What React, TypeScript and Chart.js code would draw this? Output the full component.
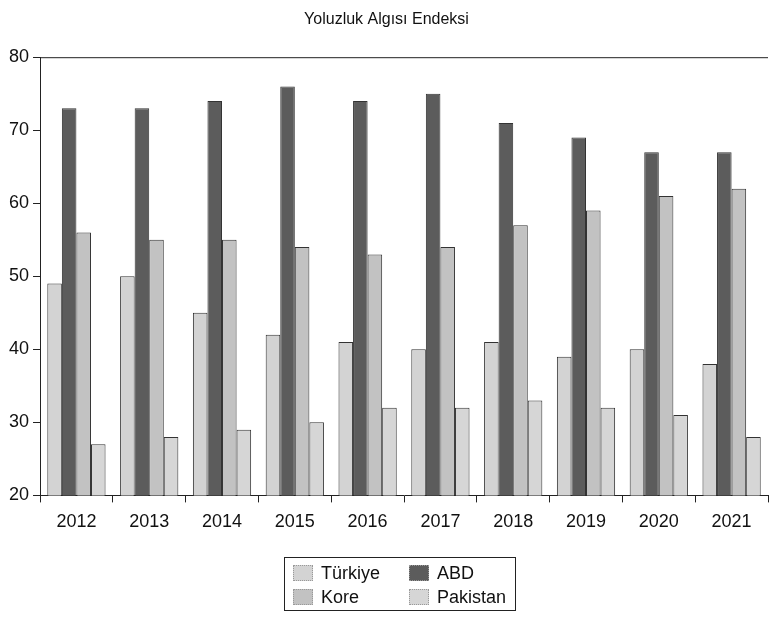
import React, { useEffect, useRef } from "react";
import { Chart, registerables } from "chart.js";

Chart.register(...registerables);

const years = ["2012", "2013", "2014", "2015", "2016", "2017", "2018", "2019", "2020", "2021"];
const turkiye = [49, 50, 45, 42, 41, 40, 41, 39, 40, 38];
const abd = [73, 73, 74, 76, 74, 75, 71, 69, 67, 67];
const kore = [56, 55, 55, 54, 53, 54, 57, 59, 61, 62];
const pakistan = [27, 28, 29, 30, 32, 32, 33, 32, 31, 28];
const seriesNames = ["Türkiye", "ABD", "Kore", "Pakistan"];
const seriesColors = ["#d3d3d3", "#5c5c5c", "#c2c2c2", "#d6d6d6"];
const titleText = "Yoluzluk Algısı Endeksi";
const FONT = "'Liberation Sans', Arial, sans-serif";

const frameTop = {
  id: "frameTop",
  afterDraw(chart: any) {
    const { ctx, chartArea } = chart;
    ctx.save();
    ctx.strokeStyle = "#222";
    ctx.lineWidth = 1;
    ctx.beginPath();
    ctx.moveTo(chartArea.left, chartArea.top + 0.5);
    ctx.lineTo(chartArea.right, chartArea.top + 0.5);
    ctx.stroke();
    ctx.restore();
  },
};

export default function App() {
  const ref = useRef<HTMLCanvasElement>(null);
  useEffect(() => {
    document.body.style.margin = "0";
    const values = [turkiye, abd, kore, pakistan];
    const chart = new Chart(ref.current!, {
      type: "bar",
      data: {
        labels: years,
        datasets: seriesNames.map((n, i) => ({
          label: n,
          data: values[i],
          backgroundColor: seriesColors[i],
          borderColor: "#333",
          borderWidth: 1,
          categoryPercentage: 0.8,
          barPercentage: 1.0,
        })),
      },
      options: {
        animation: false,
        responsive: false,
        maintainAspectRatio: false,
        layout: { padding: { top: 8, right: 1, left: 5, bottom: 75 } },
        plugins: {
          legend: { display: false },
          tooltip: { enabled: false },
          title: {
            display: true,
            text: titleText,
            color: "#111",
            font: { family: FONT, size: 16, weight: "normal" },
            padding: { top: 2, bottom: 28 },
          },
        },
        scales: {
          x: {
            grid: { drawOnChartArea: false, drawTicks: true, tickLength: 7, color: "#222", offset: true },
            border: { color: "#222", width: 1 },
            ticks: { color: "#111", font: { family: FONT, size: 18 }, padding: 9 },
          },
          y: {
            min: 20,
            max: 80,
            grid: { drawOnChartArea: false, drawTicks: true, tickLength: 7, color: "#222" },
            border: { color: "#222", width: 1 },
            ticks: { stepSize: 10, color: "#111", font: { family: FONT, size: 18 }, padding: 4 },
          },
        },
      },
      plugins: [frameTop],
    });
    return () => chart.destroy();
  }, []);

  const legendItem = (i: number) => (
    <div style={{ display: "flex", alignItems: "center" }}>
      <span
        style={{
          display: "inline-block",
          width: 18,
          height: 14,
          background: seriesColors[i],
          border: "1px dotted #999",
          marginRight: 8,
        }}
      />
      <span>{seriesNames[i]}</span>
    </div>
  );

  return (
    <div style={{ position: "relative", width: 769, height: 617 }}>
      <canvas ref={ref} width={769} height={617} style={{ display: "block" }} />
      <div
        style={{
          position: "absolute",
          left: 284,
          top: 557,
          width: 232,
          height: 54,
          border: "1px solid #222",
          boxSizing: "border-box",
          display: "grid",
          gridTemplateColumns: "116px 110px",
          gridTemplateRows: "24px 24px",
          padding: "3px 0 0 8px",
          fontFamily: FONT,
          fontSize: 18,
          color: "#111",
          lineHeight: "20px",
        }}
      >
        {legendItem(0)}
        {legendItem(1)}
        {legendItem(2)}
        {legendItem(3)}
      </div>
    </div>
  );
}
